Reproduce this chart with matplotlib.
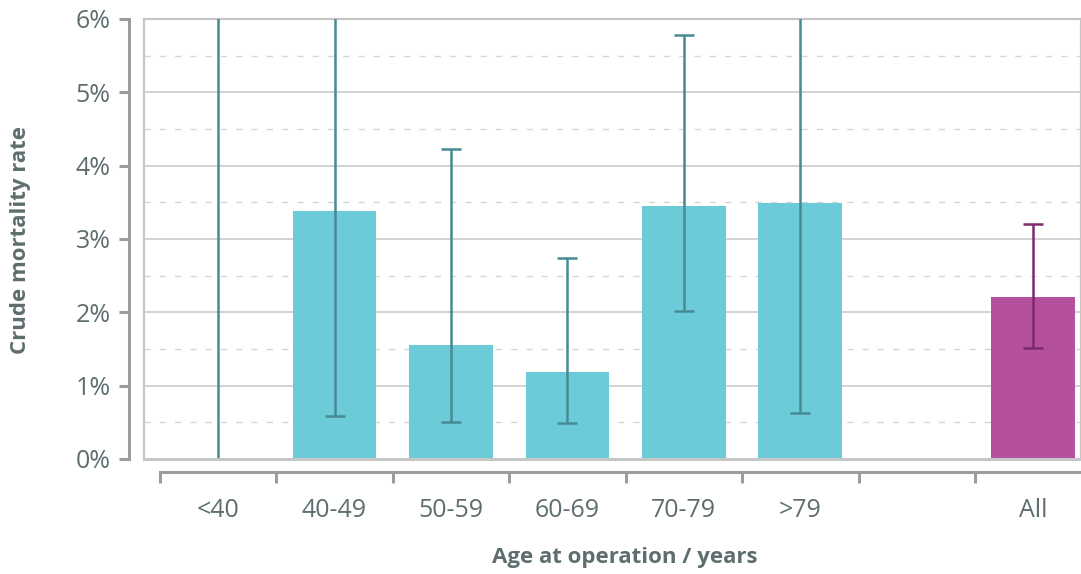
import numpy as np
import matplotlib.pyplot as plt
from matplotlib.ticker import FixedLocator, PercentFormatter

# Crude mortality by age band, with 95% confidence limits (in %)
age_groups = ["<40", "40-49", "50-59", "60-69", "70-79", ">79", "", "All"]
rate = [0.0, 3.38, 1.55, 1.19, 3.45, 3.49, np.nan, 2.21]
ci_low = [0.0, 0.59, 0.50, 0.49, 2.02, 0.63, np.nan, 1.51]
ci_high = [7.5, 7.2, 4.23, 2.74, 5.78, 7.0, np.nan, 3.20]

bar_col = "#6ccbd8"
err_col = "#468b93"
all_col = "#b5509e"
all_err = "#7b2c6c"
text_col = "#5e6e6f"
frame_col = "#c6c6c6"
axis_col = "#9c9c9c"

plt.rcParams["font.family"] = ["Open Sans", "DejaVu Sans"]

fig = plt.figure(figsize=(10.81, 5.74), dpi=100)
ax = fig.add_axes([144 / 1081, 115 / 574, 937 / 1081, 440 / 574])

x = np.arange(len(age_groups))
rate = np.array(rate)
lo = np.array(ci_low)
hi = np.array(ci_high)

colors = [bar_col] * 7 + [all_col]
ecolors = [err_col] * 7 + [all_err]
ax.bar(x, rate, width=0.72, color=colors, zorder=2)
for xi, r, l, h, ec in zip(x, rate, lo, hi, ecolors):
    if np.isnan(r):
        continue
    ax.errorbar(xi, r, yerr=[[r - l], [h - r]], fmt="none", ecolor=ec,
                elinewidth=1.8, capsize=7, capthick=1.8, zorder=3)

ax.set_xlim(-0.636, 7.41)
ax.set_ylim(0, 6)

# grid: solid at whole percents, dashed at the halves
for v in range(1, 6):
    ax.axhline(v, color="#cfcfcf", lw=1.3, zorder=1)
for v in np.arange(0.5, 6, 1.0):
    ax.axhline(v, color="#d6d6d6", lw=1.0, ls=(0, (4.5, 6.5)), zorder=1)

# light frame around the plotting area
for s in ["top", "right"]:
    ax.spines[s].set_color(frame_col)
    ax.spines[s].set_linewidth(1.6)
ax.plot([0, 0], [0, 1], transform=ax.transAxes, color=frame_col, lw=1.6,
        clip_on=False, zorder=4)
ax.plot([0, 1], [0, 0], transform=ax.transAxes, color=frame_col, lw=2.2,
        clip_on=False, zorder=4)

# offset axis lines
ax.spines["left"].set_position(("outward", 11))
ax.spines["left"].set_bounds(0, 6)
ax.spines["left"].set_color(axis_col)
ax.spines["left"].set_linewidth(2.2)
ax.spines["bottom"].set_position(("outward", 9))
ax.spines["bottom"].set_bounds(-0.5, 7.41)
ax.spines["bottom"].set_color(axis_col)
ax.spines["bottom"].set_linewidth(2.2)

ax.set_yticks(range(0, 7))
ax.yaxis.set_major_formatter(PercentFormatter(decimals=0))
ax.tick_params(axis="y", length=7, width=2.2, color=axis_col, pad=6,
               labelsize=18, labelcolor=text_col)

ax.xaxis.set_major_locator(FixedLocator(np.arange(-0.5, 7, 1.0)))
ax.xaxis.set_major_formatter(plt.NullFormatter())
ax.xaxis.set_minor_locator(FixedLocator(x))
ax.set_xticklabels(age_groups, minor=True)
ax.tick_params(axis="x", which="major", length=8, width=2.2, color=axis_col)
ax.tick_params(axis="x", which="minor", length=0, pad=19, labelsize=18,
               labelcolor=text_col)

fig.text(21 / 1081, 1 - 240 / 574, "Crude mortality rate", rotation=90,
         ha="center", va="center", fontsize=16, fontweight="bold",
         color=text_col)
fig.text(625 / 1081, 1 - 557 / 574, "Age at operation / years",
         ha="center", va="center", fontsize=16, fontweight="bold",
         color=text_col)

fig.savefig("out.png", dpi=100)
